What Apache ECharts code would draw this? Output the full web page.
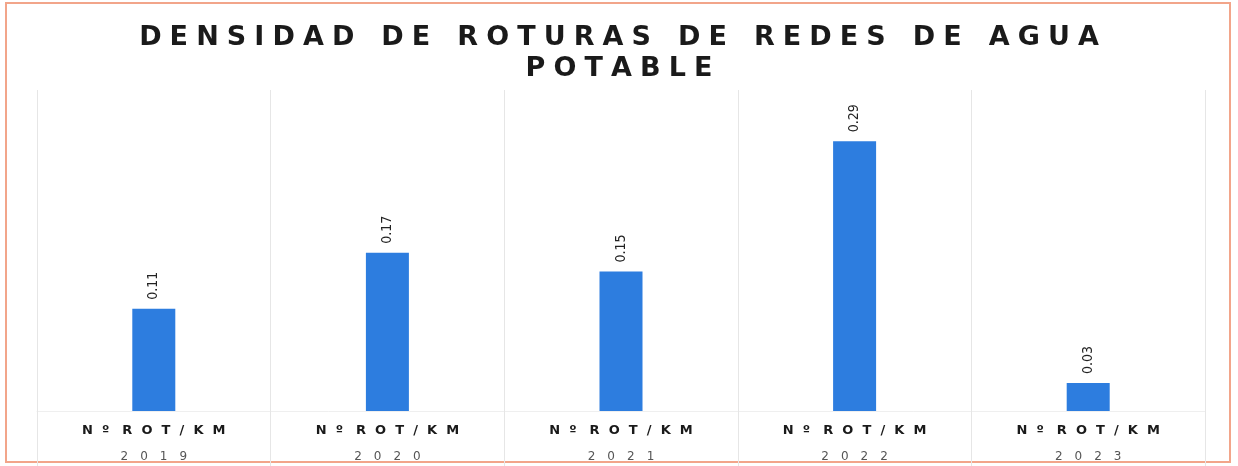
<!DOCTYPE html>
<html>
<head>
<meta charset="utf-8">
<script src="https://cdn.jsdelivr.net/npm/echarts@6/dist/echarts.min.js"></script>
<style>
  html, body { margin: 0; padding: 0; background: #fff; }
  #chart { width: 1238px; height: 466px; }
</style>
</head>
<body>
<div id="chart"></div>
<script>
const years = ['2019', '2020', '2021', '2022', '2023']
const values = [0.11, 0.17, 0.15, 0.29, 0.03]
const unitLabel = 'Nº ROT/KM'
const titleText = 'DENSIDAD DE ROTURAS DE REDES DE AGUA\nPOTABLE'

// espaciado entre letras (echarts no tiene letterSpacing)
function spaced(str, gap, wordGap) {
  return str.split('\n').map(line =>
    line.split(' ').map(w => w.split('').join(gap)).join(wordGap)
  ).join('\n')
}

const EN = '\u2002', EM = '\u2003', THIN = '\u2009', HAIR = '\u200A'

const chart = echarts.init(document.getElementById('chart'))

chart.setOption({
  backgroundColor: '#fff',
  title: {
    text: spaced(titleText, THIN + HAIR, EM),
    left: 'center',
    top: 17,
    textStyle: {
      fontFamily: 'DejaVu Sans',
      fontWeight: 'bold',
      fontSize: 27,
      lineHeight: 31,
      color: '#1a1a1a',
    },
  },
  graphic: [{
    type: 'rect',
    shape: { x: 6, y: 3, width: 1224, height: 459 },
    style: { fill: 'none', stroke: '#f2a58a', lineWidth: 2 },
    silent: true,
  }],
  grid: { left: 37, right: 33, top: 90, bottom: 55, containLabel: false, outerBoundsMode: 'none' },
  xAxis: {
    type: 'category',
    data: years,
    axisLine: { show: true, lineStyle: { color: '#efefef' } },
    axisTick: { show: true, inside: false, length: 55, lineStyle: { color: '#e6e6e6' } },
    splitLine: { show: true, lineStyle: { color: '#e6e6e6' } },
    axisLabel: {
      margin: 7,
      formatter: y => '{u|' + spaced(unitLabel, EN + THIN, EM) + '}\n{y|' + y.split('').join(EM) + '}',
      rich: {
        u: { fontFamily: 'DejaVu Sans', fontSize: 13, fontWeight: 'bold', color: '#1a1a1a', lineHeight: 26 },
        y: { fontFamily: 'DejaVu Sans', fontSize: 12, color: '#555', lineHeight: 26 },
      },
    },
  },
  yAxis: {
    type: 'value',
    min: 0,
    max: 0.345,
    show: false,
    splitLine: { show: false },
  },
  series: [{
    type: 'bar',
    data: values,
    barWidth: 43,
    itemStyle: { color: '#2d7ddf' },
    label: {
      show: true,
      position: 'top',
      rotate: 90,
      align: 'left',
      verticalAlign: 'middle',
      distance: 9,
      fontFamily: 'DejaVu Sans Condensed',
      fontSize: 14,
      color: '#222',
      formatter: p => p.value.toFixed(2),
    },
  }],
})
</script>
</body>
</html>
